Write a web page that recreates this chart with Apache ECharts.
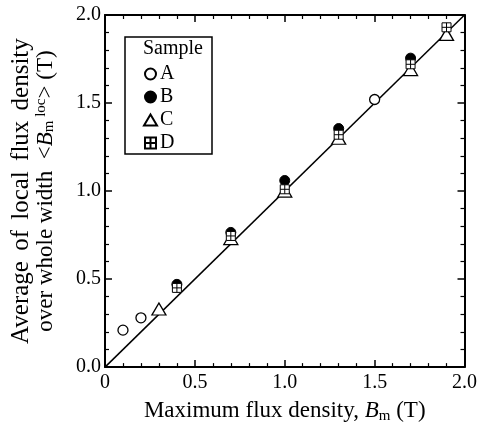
<!DOCTYPE html>
<html>
<head>
<meta charset="utf-8">
<script src="https://cdn.jsdelivr.net/npm/echarts@6/dist/echarts.min.js"></script>
<style>html,body{margin:0;padding:0;background:#fff}#c{width:480px;height:429px}</style>
</head>
<body>
<div id="c"></div>
<script>
// ---- data ----
const xTickLabels = ['0', '0.5', '1.0', '1.5', '2.0'];
const yTickLabels = ['0.0', '0.5', '1.0', '1.5', '2.0'];
const legendNames = ['A', 'B', 'C', 'D'];
const sampleA = [[0.1, 0.21], [0.2, 0.28], [1.5, 1.52]];
const sampleB = [[0.4, 0.47], [0.7, 0.765], [1.0, 1.06], [1.3, 1.355], [1.7, 1.755]];
const sampleC = [[0.3, 0.33], [0.7, 0.73], [1.0, 1.0], [1.3, 1.3], [1.7, 1.69], [1.9, 1.89]];
const sampleD = [[0.4, 0.45], [0.7, 0.745], [1.0, 1.01], [1.3, 1.32], [1.7, 1.72], [1.9, 1.93]];
const refLine = [[0, 0], [2, 2]];

const FONT = 'Liberation Serif';
const chart = echarts.init(document.getElementById('c'), null, {renderer: 'canvas'});

function axisCommon(showLabel, labels) {
  return {
    type: 'value', min: 0, max: 2, interval: 0.5,
    axisLine: {show: true, onZero: false, lineStyle: {color: '#000', width: 2}},
    axisTick: {show: true, inside: true, length: 7, lineStyle: {color: '#000', width: 1.5}},
    minorTick: {show: true, splitNumber: 5, length: 4, lineStyle: {color: '#000', width: 1.2}},
    splitLine: {show: false},
    axisLabel: showLabel ? {
      show: true, fontFamily: FONT, fontSize: 20, color: '#000',
      formatter: function (v) { return labels[Math.round(v / 0.5)]; }
    } : {show: false}
  };
}

const xBottom = Object.assign(axisCommon(true, xTickLabels), {
  position: 'bottom',
  name: 'Maximum flux density, {i|B}{sub|m} (T)',
  nameLocation: 'middle', nameGap: 18,
  nameTextStyle: {
    fontFamily: FONT, fontSize: 23, color: '#000', lineHeight: 26,
    rich: {
      i: {fontFamily: FONT, fontSize: 23, fontStyle: 'italic', color: '#000', lineHeight: 26},
      sub: {fontFamily: FONT, fontSize: 15, color: '#000', verticalAlign: 'bottom', lineHeight: 15}
    }
  }
});
xBottom.axisLabel.margin = 6;
const xTop = Object.assign(axisCommon(false), {position: 'top'});

const yLeft = Object.assign(axisCommon(true, yTickLabels), {
  position: 'left',
  name: '{w|Average} {w|of} {w|local} {w|flux} {w|density}\n{n|over whole width  <}{i|B}{sub|m}{sup| loc}{n|> (T)}',
  nameLocation: 'middle', nameGap: 48, nameRotate: 90,
  nameTextStyle: {
    fontFamily: FONT, fontSize: 25, color: '#000',
    rich: {
      w: {fontFamily: FONT, fontSize: 25, color: '#000', lineHeight: 23, padding: [0, 2, 0, 2]},
      n: {fontFamily: FONT, fontSize: 23, color: '#000', lineHeight: 23},
      i: {fontFamily: FONT, fontSize: 23, fontStyle: 'italic', color: '#000', lineHeight: 23},
      sub: {fontFamily: FONT, fontSize: 15, color: '#000', verticalAlign: 'bottom', lineHeight: 15},
      sup: {fontFamily: FONT, fontSize: 15, color: '#000', verticalAlign: 'top', lineHeight: 15}
    }
  }
});
yLeft.axisLabel.margin = 4;
const yRight = Object.assign(axisCommon(false), {position: 'right'});

const openStyle = {color: '#fff', borderColor: '#000', borderWidth: 1.3, opacity: 1};

chart.setOption({
  animation: false,
  backgroundColor: '#fff',
  grid: {left: 105, right: 12, top: 15, bottom: 51, containLabel: false},
  xAxis: [xBottom, xTop],
  yAxis: [yLeft, yRight],
  legend: {
    data: legendNames, orient: 'vertical', left: 143, top: 64,
    itemWidth: 13, itemHeight: 11, itemGap: 3, padding: 0,
    textStyle: {fontFamily: FONT, fontSize: 20, color: '#000', padding: [0, 0, 0, -2]},
    selectedMode: false
  },
  graphic: [
    {type: 'rect', shape: {x: 125, y: 37, width: 87, height: 117}, style: {fill: '#fff', stroke: '#000', lineWidth: 1.5}, z: 0},
    {type: 'text', x: 143, y: 49, style: {text: 'Sample', fontFamily: FONT, fontSize: 20, fill: '#000', verticalAlign: 'middle', align: 'left'}, z: 1}
  ],
  series: [
    {type: 'line', data: refLine, showSymbol: false, symbol: 'none', lineStyle: {color: '#000', width: 1.5}, silent: true, z: 1},
    {name: 'A', type: 'scatter', data: sampleA, symbol: 'circle', symbolSize: 10, itemStyle: openStyle, z: 2},
    {name: 'C', type: 'scatter', data: sampleC, symbol: 'triangle', symbolSize: [14, 12], itemStyle: openStyle, z: 2},
    {name: 'B', type: 'scatter', data: sampleB, symbol: 'circle', symbolSize: 10, itemStyle: {color: '#000', borderColor: '#000', borderWidth: 1, opacity: 1}, z: 2},
    {name: 'D', type: 'scatter', data: sampleD, symbol: 'path://M0,0L10,0L10,10L0,10Z M5,0L5,10 M0,5L10,5', symbolSize: 9, itemStyle: {color: '#fff', borderColor: '#000', borderWidth: 1, opacity: 1}, z: 2}
  ]
});
</script>
</body>
</html>
